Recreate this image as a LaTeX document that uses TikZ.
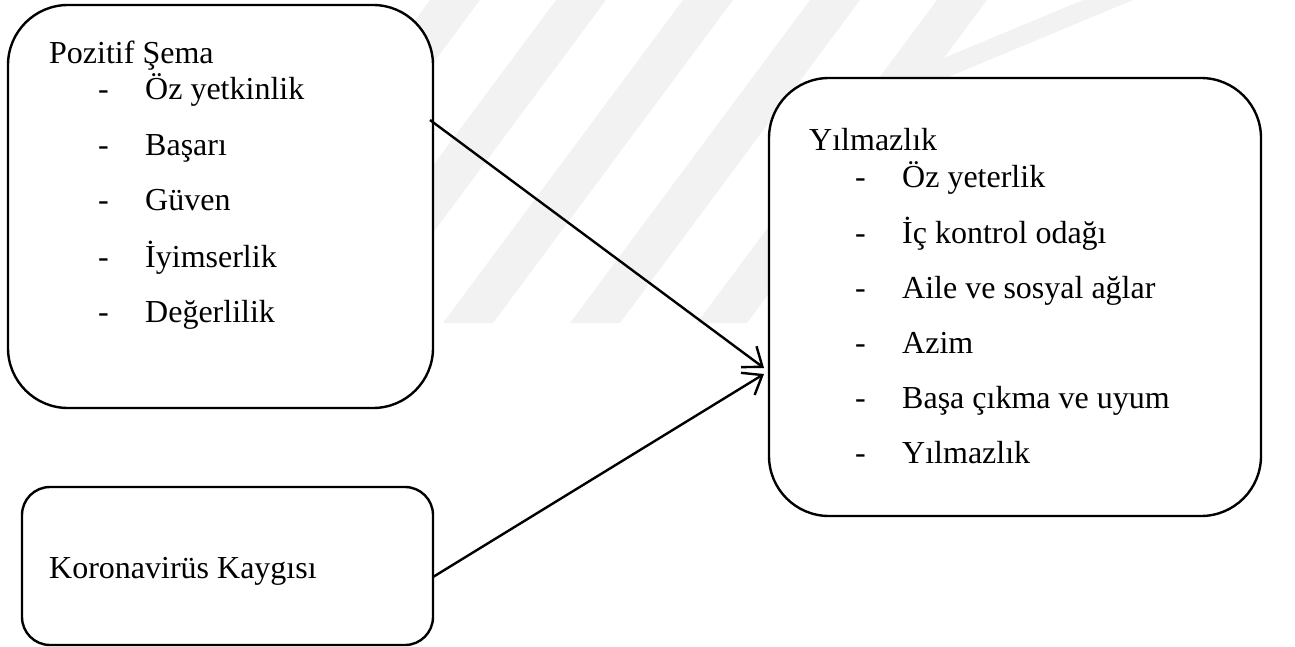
\documentclass[tikz,border=0pt]{standalone}
\usepackage{fontspec}
\setmainfont{Liberation Serif}
\usetikzlibrary{arrows.meta}
\tikzstyle{box}=[rectangle, draw, line width=2.4pt, fill=white, inner sep=0pt]
\tikzstyle{head}=[anchor=base west, inner sep=0pt]
\tikzstyle{item}=[anchor=base west, inner sep=0pt]
\tikzstyle{itemdash}=[anchor=base west, inner sep=0pt]
\tikzstyle{edge}=[line width=2.4pt, -{Straight Barb[length=17pt, width=26pt, line width=2.4pt]}]
\tikzstyle{wm}=[fill=black!5]

\begin{document}
\begin{tikzpicture}[x=1pt, y=-1pt, font=\fontsize{32}{38}\selectfont]
				\useasboundingbox (0,0) rectangle (1295,647);
				
				%The watermark stripes
				\fill[wm] (190,323) -- (240,323) -- (480,0) -- (430,0) -- cycle;
				\fill[wm] (316,323) -- (366,323) -- (606,0) -- (556,0) -- cycle;
				\fill[wm] (443,323) -- (493,323) -- (733,0) -- (683,0) -- cycle;
				\fill[wm] (570,323) -- (620,323) -- (860,0) -- (810,0) -- cycle;
				\fill[wm] (697,323) -- (747,323) -- (987,0) -- (937,0) -- cycle;
				\fill[wm] (843,100) -- (893,100) -- (1133,0) -- (1083,0) -- cycle;
				
				%The boxes
				\draw (220.5,206.5) node[box, rounded corners=60pt, minimum width=425pt, minimum height=403pt] (sema) {};
				\draw (1015,297) node[box, rounded corners=60pt, minimum width=492pt, minimum height=438pt] (yil) {};
				\draw (227.5,566) node[box, rounded corners=28pt, minimum width=411pt, minimum height=158pt] (kaygi) {};
				
				%The left list
				\draw (49,64) node[head] (sema-t) {Pozitif Şema};
				\draw (98,100) node[itemdash] (sema-d1) {-};
				\draw (145,100) node[item] (sema-1) {Öz yetkinlik};
				\draw (98,156) node[itemdash] (sema-d2) {-};
				\draw (145,156) node[item] (sema-2) {Başarı};
				\draw (98,211) node[itemdash] (sema-d3) {-};
				\draw (145,211) node[item] (sema-3) {Güven};
				\draw (98,267) node[itemdash] (sema-d4) {-};
				\draw (145,267) node[item] (sema-4) {İyimserlik};
				\draw (98,322) node[itemdash] (sema-d5) {-};
				\draw (145,322) node[item] (sema-5) {Değerlilik};
				
				%The right list
				\draw (809,151) node[head] (yil-t) {Yılmazlık};
				\draw (855,188) node[itemdash] (yil-d1) {-};
				\draw (902,188) node[item] (yil-1) {Öz yeterlik};
				\draw (855,243) node[itemdash] (yil-d2) {-};
				\draw (902,243) node[item] (yil-2) {İç kontrol odağı};
				\draw (855,298) node[itemdash] (yil-d3) {-};
				\draw (902,298) node[item] (yil-3) {Aile ve sosyal ağlar};
				\draw (855,353) node[itemdash] (yil-d4) {-};
				\draw (902,353) node[item] (yil-4) {Azim};
				\draw (855,408) node[itemdash] (yil-d5) {-};
				\draw (902,408) node[item] (yil-5) {Başa çıkma ve uyum};
				\draw (855,463) node[itemdash] (yil-d6) {-};
				\draw (902,463) node[item] (yil-6) {Yılmazlık};
				
				%The lower box
				\draw (49,578) node[head] (kaygi-t) {Koronavirüs Kaygısı};
				
				%The arrows
				\coordinate (sema-out) at (430,120);
				\coordinate (kaygi-out) at (433,577);
				\coordinate (yil-in1) at (764,368);
				\coordinate (yil-in2) at (764,374);
				\draw[edge] (sema-out) -- (yil-in1);
				\draw[edge] (kaygi-out) -- (yil-in2);
			\end{tikzpicture}
\end{document}
